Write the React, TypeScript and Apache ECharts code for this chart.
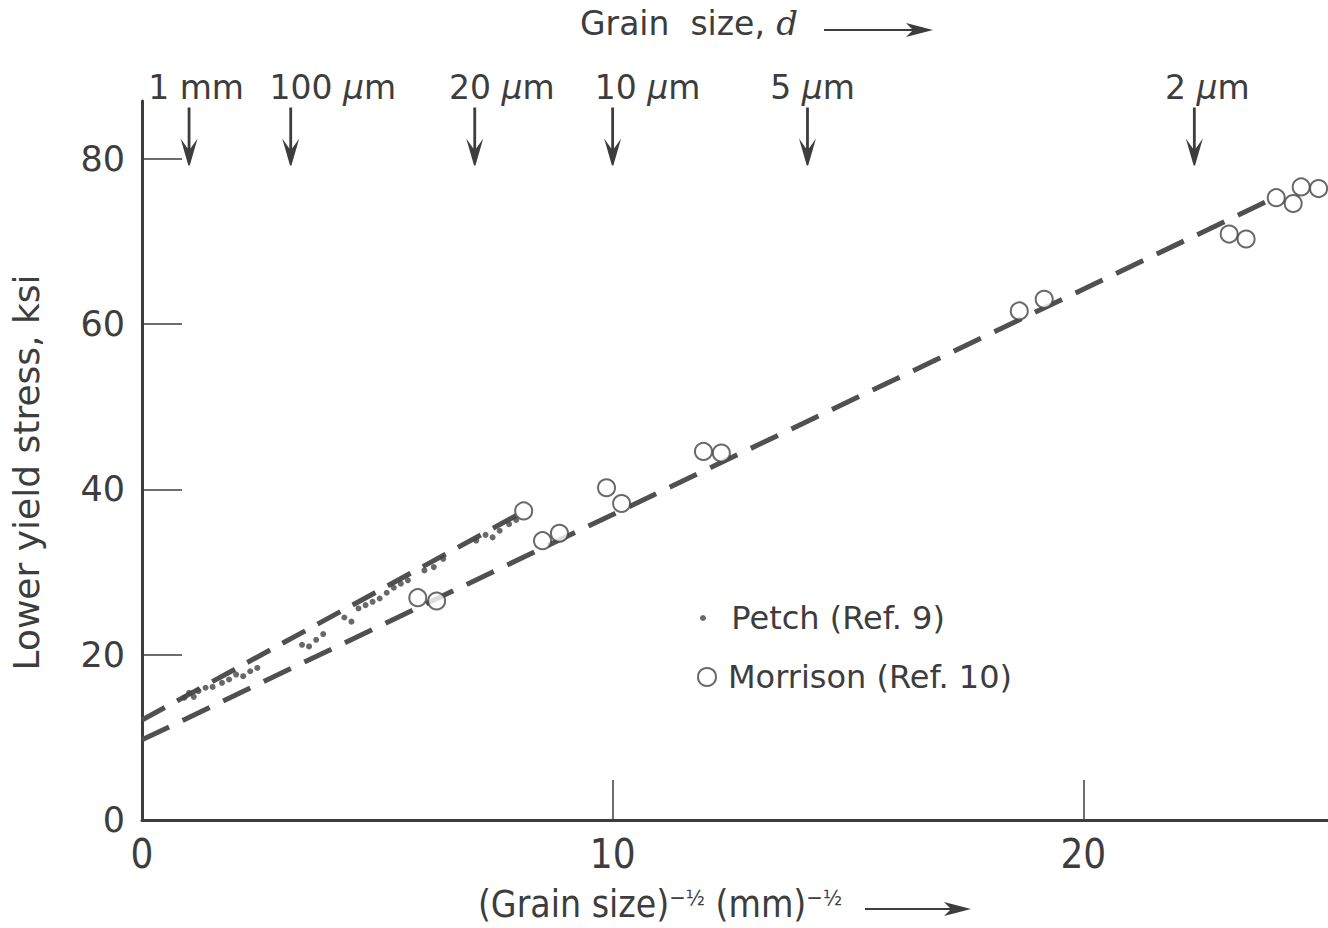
import React, { useEffect, useRef } from "react";
import * as echarts from "echarts";

// ---- data ----
const morrisonX = [5.86, 6.26, 8.11, 8.51, 8.87, 9.87, 10.19, 11.93, 12.31, 18.64, 19.17, 23.1, 23.46, 24.1, 24.46, 24.63, 25.0];
const morrisonY = [26.9, 26.5, 37.4, 33.8, 34.7, 40.2, 38.3, 44.6, 44.4, 61.6, 63.0, 70.9, 70.3, 75.3, 74.6, 76.6, 76.4];

const petchX = [0.9, 1.0, 1.1, 1.2, 1.35, 1.5, 1.7, 1.85, 2.0, 2.15, 2.3, 2.45, 3.4, 3.55, 3.7, 3.85, 4.3, 4.45, 4.6, 4.75, 4.9, 5.05, 5.2, 5.35, 5.5, 5.65, 6.0, 6.2, 6.4, 7.1, 7.3, 7.45, 7.6, 7.8, 7.95];
const petchY = [14.8, 15.4, 14.9, 15.6, 16.0, 16.1, 16.6, 17.0, 17.6, 17.4, 18.0, 18.4, 21.2, 21.0, 21.8, 22.5, 24.5, 24.0, 25.6, 26.0, 26.4, 26.8, 27.5, 28.1, 28.6, 29.0, 30.2, 30.6, 31.6, 33.8, 34.5, 34.2, 35.0, 35.8, 36.3];

const morrisonFitX = [0, 24.1];
const morrisonFitY = [9.7, 75.4];
const petchFitX = [0, 8.1];
const petchFitY = [12.1, 37.3];

const grainSizeLabels = ["1 mm", "100 µm", "20 µm", "10 µm", "5 µm", "2 µm"];
const grainSizePositions = [1, 3.16, 7.07, 10, 14.14, 22.36];
const grainLabelShift = [7, 42, 27, 35, 5, 13];
const arrowLevel = 82.7;

const yTickValues = [0, 20, 40, 60, 80];
const xTickValues = [0, 10, 20];

const INK = "#3d3d3d";
const SANS = "'DejaVu Sans', sans-serif";
const NARROW = "'Liberation Sans Narrow', 'DejaVu Sans Condensed', sans-serif";

const ARROW_SYMBOL = "path://M6.6,0L9.4,0L9.4,41L16.5,31L8.7,58L7.3,58L-0.5,31L6.6,41Z";

const zip = (xs: number[], ys: number[]) => xs.map((x, i) => [x, ys[i]]);

function richUnit(s: string) {
  return s
    .split("µ")
    .map((p) => (p ? `{n|${p}}` : ""))
    .join("{mu|µ}");
}

export default function App() {
  const ref = useRef<HTMLDivElement>(null);

  useEffect(() => {
    if (!ref.current) return;
    const chart = echarts.init(ref.current, undefined, { renderer: "svg" });

    const option: any = {
      animation: false,
      backgroundColor: "#ffffff",
      textStyle: { fontFamily: SANS, color: INK },
      title: {
        text: "{a|Grain  size,}  {d|d}",
        left: 580,
        top: 6,
        padding: 0,
        textStyle: {
          fontWeight: "normal",
          rich: {
            a: { fontFamily: SANS, fontSize: 33, fontWeight: "normal", color: INK },
            d: { fontFamily: "'DejaVu Serif', serif", fontStyle: "italic", fontWeight: "normal", fontSize: 34, color: INK },
          },
        },
      },
      grid: { left: 142, right: 0, top: 101, bottom: 108, outerBoundsMode: "none", containLabel: false },
      legend: [
        {
          data: ["Petch (Ref. 9)"],
          left: 700,
          top: 602,
          padding: 0,
          itemWidth: 6,
          itemHeight: 6,
          formatter: "  {name}",
          textStyle: { fontFamily: SANS, fontSize: 32, color: INK },
        },
        {
          data: ["Morrison (Ref. 10)"],
          left: 697,
          top: 661,
          padding: 0,
          itemWidth: 18,
          itemHeight: 18,
          formatter: "{name}",
          textStyle: { fontFamily: SANS, fontSize: 32, color: INK, padding: [0, 0, 0, 7] },
        },
      ],
      xAxis: {
        type: "value",
        min: 0,
        max: 25.2,
        name: "{m|(Grain size)}{s|−½}{m| (mm)}{s|−½}",
        nameLocation: "middle",
        nameGap: 66,
        nameTextStyle: {
          padding: [0, 150, 0, 0],
          rich: {
            m: { fontFamily: NARROW, fontSize: 37, color: INK, lineHeight: 36 },
            s: { fontFamily: NARROW, fontSize: 22, color: INK, verticalAlign: "top", lineHeight: 24 },
          },
        },
        axisLine: { show: true, lineStyle: { color: INK, width: 3 } },
        axisTick: { show: true, inside: true, length: 40, customValues: [10, 20], lineStyle: { color: INK, width: 1.5 } },
        axisLabel: { customValues: xTickValues, fontFamily: NARROW, fontSize: 40, color: INK, margin: 14 },
        splitLine: { show: false },
      },
      yAxis: {
        type: "value",
        min: 0,
        max: 87,
        name: "Lower yield stress, ksi",
        nameLocation: "middle",
        nameGap: 98,
        nameTextStyle: { fontFamily: SANS, fontSize: 36, color: INK, padding: [0, 24, 0, 0] },
        axisLine: { show: true, lineStyle: { color: INK, width: 3 } },
        axisTick: { show: true, inside: true, length: 40, customValues: [20, 40, 60, 80], lineStyle: { color: INK, width: 1.5 } },
        axisLabel: { customValues: yTickValues, fontFamily: SANS, fontSize: 35, color: INK, margin: 17 },
        splitLine: { show: false },
      },
      graphic: [
        {
          type: "group",
          children: [
            { type: "line", shape: { x1: 824, y1: 30, x2: 925, y2: 30 }, style: { stroke: INK, lineWidth: 2 } },
            { type: "polygon", shape: { points: [[906, 23], [933, 30], [906, 37], [913, 30]] }, style: { fill: INK } },
            { type: "line", shape: { x1: 865, y1: 909, x2: 962, y2: 909 }, style: { stroke: INK, lineWidth: 2 } },
            { type: "polygon", shape: { points: [[944, 902], [971, 909], [944, 916], [951, 909]] }, style: { fill: INK } },
          ],
        },
      ],
      series: [
        {
          name: "Morrison fit",
          type: "line",
          data: zip(morrisonFitX, morrisonFitY),
          showSymbol: false,
          symbol: "none",
          lineStyle: { color: "#505050", width: 5, type: [30, 15] },
          z: 2,
        },
        {
          name: "Petch fit",
          type: "line",
          data: zip(petchFitX, petchFitY),
          showSymbol: false,
          symbol: "none",
          lineStyle: { color: "#505050", width: 5, type: [26, 14] },
          z: 2,
        },
        {
          name: "Petch (Ref. 9)",
          type: "scatter",
          data: zip(petchX, petchY),
          symbol: "circle",
          symbolSize: 6,
          itemStyle: { color: "#444" },
          z: 3,
        },
        {
          name: "Morrison (Ref. 10)",
          type: "scatter",
          data: zip(morrisonX, morrisonY),
          symbol: "circle",
          symbolSize: 17,
          clip: false,
          itemStyle: { color: "#ffffff", borderColor: "#444", borderWidth: 2 },
          z: 4,
        },
        {
          name: "Grain size, d",
          type: "scatter",
          symbol: ARROW_SYMBOL,
          symbolSize: [17, 58],
          itemStyle: { color: INK, opacity: 1 },
          clip: false,
          data: grainSizePositions.map((x, i) => ({
            value: [x, arrowLevel],
            label: {
              show: true,
              position: "top",
              distance: 4,
              color: INK,
              opacity: 1,
              offset: [grainLabelShift[i], 0],
              formatter: richUnit(grainSizeLabels[i]),
              rich: {
                n: { fontFamily: SANS, fontSize: 33, color: INK },
                mu: { fontFamily: SANS, fontStyle: "italic", fontSize: 33, color: INK },
              },
            },
          })),
          z: 5,
        },
      ],
    };

    chart.setOption(option);
    return () => chart.dispose();
  }, []);

  return (
    <div
      ref={ref}
      style={{ position: "fixed", left: 0, top: 0, width: 1328, height: 928, background: "#fff" }}
    />
  );
}
